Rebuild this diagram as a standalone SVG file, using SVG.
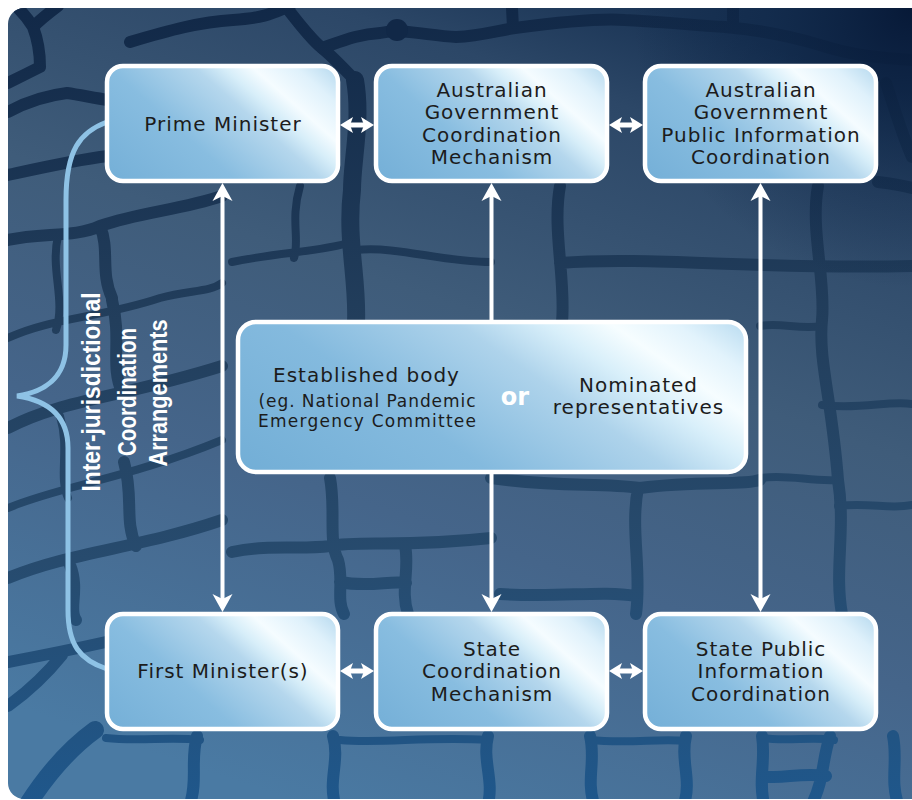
<svg xmlns="http://www.w3.org/2000/svg" width="912" height="800" viewBox="0 0 912 800">
<defs>
<style>
.bx{stroke:#fff;stroke-width:4.5}
.sm{fill:url(#boxG)}
.cb{fill:url(#cboxG)}
.t{font-family:"DejaVu Sans","Liberation Sans",sans-serif;font-size:20px;fill:#1c1c1c;text-anchor:middle;letter-spacing:1px}
.s{font-family:"DejaVu Sans","Liberation Sans",sans-serif;font-size:17px;fill:#1c1c1c;text-anchor:middle}
.or{font-family:"DejaVu Sans","Liberation Sans",sans-serif;font-size:24px;font-weight:bold;fill:#fff;text-anchor:middle}
.v{fill:none;stroke:url(#veinG);stroke-linecap:round;stroke-linejoin:round;stroke-width:12}
.w{stroke-width:18}
.n{stroke-width:8}
.ln{fill:none;stroke:#fff;stroke-width:4}
.lh{fill:none;stroke:#fff;stroke-width:5}
.vt{font-family:"Liberation Sans Narrow","Liberation Sans",sans-serif;font-weight:bold;font-size:25px;fill:#fff;text-anchor:middle}
.br{fill:none;stroke:#8ec2e5;stroke-width:5;stroke-linecap:round}
</style>
<linearGradient id="baseG" x1="0.7" y1="0" x2="0.3" y2="1">
<stop offset="0" stop-color="#1a3455"/>
<stop offset="0.12" stop-color="#2c4767"/>
<stop offset="0.4" stop-color="#3f5c7a"/>
<stop offset="0.65" stop-color="#45658a"/>
<stop offset="1" stop-color="#4a7aa3"/>
</linearGradient>
<radialGradient id="cornerG" gradientUnits="userSpaceOnUse" cx="912" cy="8" r="280">
<stop offset="0" stop-color="#051634" stop-opacity="0.9"/>
<stop offset="0.5" stop-color="#0a2142" stop-opacity="0.45"/>
<stop offset="1" stop-color="#0a2142" stop-opacity="0"/>
</radialGradient>
<linearGradient id="veinG" gradientUnits="userSpaceOnUse" x1="0" y1="0" x2="0" y2="800">
<stop offset="0" stop-color="#112847"/>
<stop offset="0.4" stop-color="#223e5c"/>
<stop offset="0.7" stop-color="#274b6e"/>
<stop offset="1" stop-color="#1f578b"/>
</linearGradient>
<linearGradient id="boxG" gradientUnits="userSpaceOnUse" x1="0" y1="115" x2="158" y2="-64">
<stop offset="0" stop-color="#74afd7"/>
<stop offset="0.36" stop-color="#88bde0"/>
<stop offset="0.6" stop-color="#b5d7ed"/>
<stop offset="0.68" stop-color="#d7eef9"/>
<stop offset="0.76" stop-color="#f5fcff"/>
<stop offset="0.88" stop-color="#dff1fb"/>
<stop offset="1" stop-color="#b4d8ee"/>
</linearGradient>
<linearGradient id="cboxG" gradientUnits="userSpaceOnUse" x1="0" y1="150" x2="233" y2="-189">
<stop offset="0" stop-color="#72aed6"/>
<stop offset="0.35" stop-color="#84bade"/>
<stop offset="0.6" stop-color="#aed3eb"/>
<stop offset="0.72" stop-color="#d8effa"/>
<stop offset="0.81" stop-color="#f6fdff"/>
<stop offset="0.9" stop-color="#e2f3fc"/>
<stop offset="1" stop-color="#b8dbf0"/>
</linearGradient>
<marker id="ah" markerUnits="userSpaceOnUse" markerWidth="30" markerHeight="30" viewBox="-15 -15 30 30" refX="0" refY="0" orient="auto-start-reverse">
<path d="M8 0 L-10 -10 L-5 0 L-10 10 Z" fill="#fff"/>
</marker>
<marker id="ahs" markerUnits="userSpaceOnUse" markerWidth="20" markerHeight="20" viewBox="-10 -10 20 20" refX="0" refY="0" orient="auto-start-reverse">
<path d="M6 0 L-7 -8 L-4 0 L-7 8 Z" fill="#fff"/>
</marker>
<clipPath id="bgClip"><rect x="8" y="8" width="930" height="791" rx="16"/></clipPath>
</defs>

<g id="background" clip-path="url(#bgClip)">
<rect x="8" y="8" width="930" height="791" fill="url(#baseG)"/>
<g id="veins">
<path class="v" d="M130 42 C170 30 200 22 233 20 S275 12 290 6"/>
<path class="v" d="M287 8 C300 25 312 40 322 48 S345 70 355 80"/>
<path class="v" d="M322 48 C345 40 360 34 380 33 C400 28 430 36 456 37 C480 36 500 30 515 28 C560 22 600 18 625 20 C670 22 700 26 725 27 C760 30 790 36 820 45 C850 55 880 58 912 60"/>
<path class="v" d="M512 8 L513 28 M733 8 L733 27"/>
<path class="v" d="M18 8 C25 15 30 22 33 27 C42 18 50 12 58 6 M33 27 C38 40 40 55 40 67 C30 72 18 78 8 83"/>
<path class="v" d="M8 112 C30 100 50 95 67 93 C80 95 95 98 108 100"/>
<path class="v" d="M8 175 C40 168 75 160 108 156"/>
<path class="v" d="M886 83 C895 110 902 135 912 157 M878 182 C895 184 905 186 912 188"/>
<circle cx="397" cy="30" r="11" fill="#112847"/>
<path class="v" d="M8 240 C40 232 75 238 100 226 C140 212 180 210 222 196 M100 226 C110 250 100 272 112 298"/>
<path class="v n" d="M8 338 C50 318 100 318 160 298 C190 290 210 292 222 283 M58 236 C50 270 66 300 56 330"/>
<path class="v" d="M8 428 C60 400 120 398 222 366 M112 300 C122 340 110 365 122 392"/>
<path class="v n" d="M8 508 C60 486 130 478 222 440 M60 416 C70 450 58 476 68 498"/>
<path class="v" d="M8 578 C70 552 140 548 222 520 M124 462 C134 498 124 520 136 546 M70 565 C80 590 68 610 76 620"/>
<path class="v" d="M8 662 C40 656 70 650 106 642 M8 706 C30 690 50 670 62 655"/>
<path class="v w" d="M28 804 C50 770 70 748 95 730"/>
<path class="v n" d="M232 262 C280 252 320 252 352 242 M300 186 C290 220 300 240 294 258"/>
<path class="v w" d="M355 80 C362 120 352 160 352 190 C346 240 358 280 356 322"/>
<path class="v n" d="M356 250 C400 246 440 262 491 262"/>
<path class="v" d="M232 552 C270 544 300 550 330 546 C360 540 400 548 491 538 M330 478 C336 510 328 540 338 560 C344 580 336 600 344 614 M405 545 C410 570 400 590 408 614 M340 582 C370 588 390 580 406 583"/>
<path class="v" d="M560 186 C552 230 566 280 562 322 M560 263 C650 256 760 270 912 266"/>
<path class="v" d="M491 478 C560 488 600 482 640 488 C700 480 740 486 760 480 M638 488 C630 530 642 570 636 614 M500 594 C560 598 600 590 636 596"/>
<path class="v" d="M818 186 C810 230 826 280 822 320 C818 360 832 400 838 480 C846 530 834 570 842 614"/>
<path class="v n" d="M822 405 C860 410 890 400 912 404 M838 506 C870 502 890 510 912 505 M760 326 C780 322 800 330 822 326 M760 478 C790 474 810 482 838 480"/>
<path class="v n" d="M106 738 C140 742 170 736 200 740 M340 740 C380 744 430 736 488 740 M590 740 C630 744 660 738 686 741 M762 738 C790 742 810 736 834 740"/>
<path class="v" d="M197 736 C190 760 198 780 190 804 M333 736 C340 760 328 780 335 804 M488 736 C482 760 494 780 488 804 M590 736 C596 760 586 780 594 804 M686 736 C680 760 692 780 684 804 M762 736 C766 760 758 780 764 804 M830 736 C822 760 824 780 812 804 M893 736 C898 760 890 780 898 804 M762 776 C780 780 800 772 826 776"/>
</g>
<rect x="8" y="8" width="930" height="791" fill="url(#cornerG)"/>
</g>

<path id="brace" class="br" d="M107 122 C80 132 66 150 66 200 L66 345 C66 378 44 392 17 396 C44 400 68 413 68 448 L68 610 C68 645 80 660 107 669"/>
<g id="brace-label">
<text class="vt" transform="translate(99.5,392) rotate(-90)" textLength="199" lengthAdjust="spacingAndGlyphs">Inter-jurisdictional</text>
<text class="vt" transform="translate(135.5,392) rotate(-90)" textLength="128" lengthAdjust="spacingAndGlyphs">Coordination</text>
<text class="vt" transform="translate(166.5,393) rotate(-90)" textLength="147" lengthAdjust="spacingAndGlyphs">Arrangements</text>
</g>

<g id="connectors">
<path class="ln" d="M222.5 191 V604" marker-start="url(#ah)" marker-end="url(#ah)"/>
<path class="ln" d="M491.5 320 V191" marker-end="url(#ah)"/>
<path class="ln" d="M491.5 474 V604" marker-end="url(#ah)"/>
<path class="ln" d="M760.5 191 V604" marker-start="url(#ah)" marker-end="url(#ah)"/>
<path class="lh" d="M346 125 H368" marker-start="url(#ahs)" marker-end="url(#ahs)"/>
<path class="lh" d="M615 125 H637" marker-start="url(#ahs)" marker-end="url(#ahs)"/>
<path class="lh" d="M346 671 H368" marker-start="url(#ahs)" marker-end="url(#ahs)"/>
<path class="lh" d="M615 671 H637" marker-start="url(#ahs)" marker-end="url(#ahs)"/>
</g>

<g id="prime-minister" transform="translate(107,66)">
<rect class="bx sm" width="231" height="115" rx="16"/>
<text class="t" x="116" y="65">Prime Minister</text>
</g>
<g id="ag-coordination" transform="translate(376,66)">
<rect class="bx sm" width="231" height="115" rx="16"/>
<text class="t" x="116" y="30.5">Australian</text>
<text class="t" x="116" y="53">Government</text>
<text class="t" x="116" y="75.5">Coordination</text>
<text class="t" x="116" y="98">Mechanism</text>
</g>
<g id="ag-public-info" transform="translate(645,66)">
<rect class="bx sm" width="231" height="115" rx="16"/>
<text class="t" x="116" y="30.5">Australian</text>
<text class="t" x="116" y="53">Government</text>
<text class="t" x="116" y="75.5">Public Information</text>
<text class="t" x="116" y="98">Coordination</text>
</g>
<g id="established-body" transform="translate(238,322)">
<rect class="bx cb" width="508" height="150" rx="18"/>
<text class="t" x="128.5" y="60">Established body</text>
<text class="s" x="129" y="85" textLength="217" lengthAdjust="spacing">(eg. National Pandemic</text>
<text class="s" x="129" y="105" textLength="218" lengthAdjust="spacing">Emergency Committee</text>
<text class="or" x="277" y="83">or</text>
<text class="t" x="400.5" y="70">Nominated</text>
<text class="t" x="400.5" y="92">representatives</text>
</g>
<g id="first-ministers" transform="translate(107,614)">
<rect class="bx sm" width="231" height="115" rx="16"/>
<text class="t" x="116" y="64">First Minister(s)</text>
</g>
<g id="state-coordination" transform="translate(376,614)">
<rect class="bx sm" width="231" height="115" rx="16"/>
<text class="t" x="116" y="41.5">State</text>
<text class="t" x="116" y="64">Coordination</text>
<text class="t" x="116" y="86.5">Mechanism</text>
</g>
<g id="state-public-info" transform="translate(645,614)">
<rect class="bx sm" width="231" height="115" rx="16"/>
<text class="t" x="116" y="41.5">State Public</text>
<text class="t" x="116" y="64">Information</text>
<text class="t" x="116" y="86.5">Coordination</text>
</g>
</svg>
